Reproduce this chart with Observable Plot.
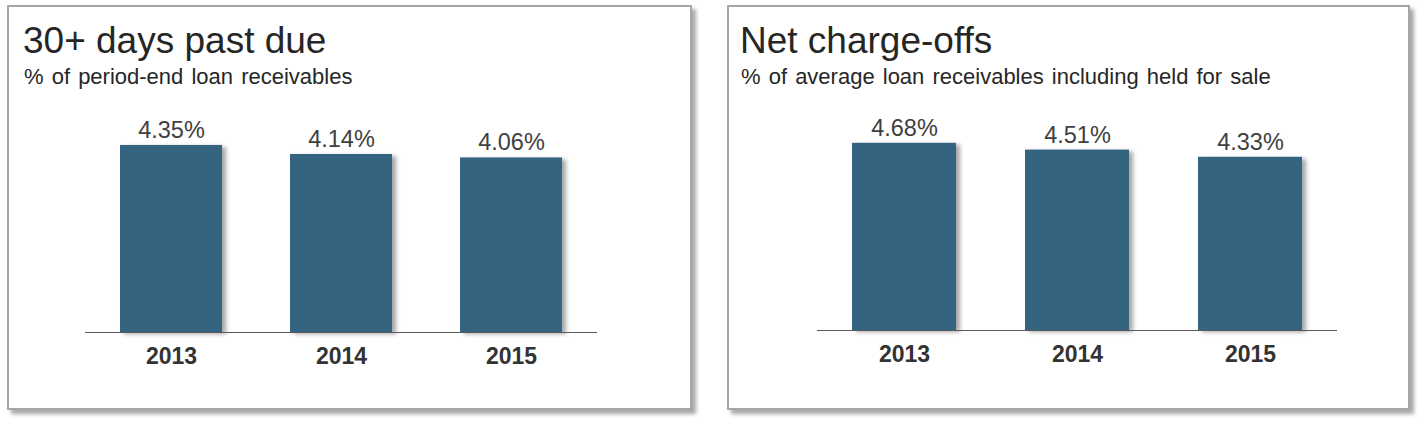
<!DOCTYPE html>
<html>
<head>
<meta charset="utf-8">
<script src="https://cdn.jsdelivr.net/npm/d3@7"></script>
<script src="https://cdn.jsdelivr.net/npm/@observablehq/plot@0.6"></script>
<style>
  html, body { margin: 0; padding: 0; background: #fff; }
  body { width: 1427px; height: 424px; position: relative; overflow: hidden; font-family: "Liberation Sans", Arial, sans-serif; }
  .panel { position: absolute; box-sizing: border-box; border: 2px solid #a6a6a6; background: #fff;
           box-shadow: 4px 4px 4px rgba(0,0,0,0.35); }
  .title { position: absolute; font-size: 37px; line-height: 37px; color: #262626; white-space: nowrap; }
  .subtitle { position: absolute; font-size: 22px; line-height: 22px; color: #262626; white-space: nowrap; word-spacing: 2px; }
  .chart { position: absolute; }
  .chart svg g[aria-label="bar"] rect { filter: drop-shadow(4px 2px 2px rgba(0,0,0,0.35)); }
</style>
</head>
<body>
<div class="panel" style="left:7px; top:5px; width:685px; height:405px;"></div>
<div class="panel" style="left:727px; top:5px; width:683px; height:405px;"></div>
<div class="title" style="left:23px; top:22px;">30+ days past due</div>
<div class="subtitle" style="left:24px; top:66px;">% of period-end loan receivables</div>
<div class="title" style="left:740px; top:22px;">Net charge-offs</div>
<div class="subtitle" style="left:741px; top:66px;">% of average loan receivables including held for sale</div>
<div class="chart" id="c1" style="left:7px; top:5px;"></div>
<div class="chart" id="c2" style="left:727px; top:5px;"></div>
<script>
const years = ["2013", "2014", "2015"];
const pastDue = [4.35, 4.14, 4.06];
const chargeOffs = [4.68, 4.51, 4.33];

const barColor = "#346480";

function makeChart(values, opts) {
  const data = years.map((y, i) => ({year: y, value: values[i]}));
  return Plot.plot({
    width: opts.width,
    height: 404,
    marginLeft: opts.ml,
    marginRight: opts.mr,
    marginTop: opts.mt,
    marginBottom: opts.mb,
    style: {fontFamily: "'Liberation Sans', Arial, sans-serif", background: "transparent", overflow: "visible"},
    x: {domain: years, paddingInner: 0.4, paddingOuter: 0.2, axis: null},
    y: {domain: [0, 5], axis: null},
    marks: [
      Plot.barY(data, {x: "year", y: "value", fill: barColor}),
      Plot.ruleY([0], {stroke: "#595959", strokeWidth: 1}),
      Plot.text(data, {x: "year", y: "value", text: d => d.value.toFixed(2) + "%", dy: -15,
                       fontSize: 23.5, fill: "#404040"}),
      Plot.text(years, {x: d => d, frameAnchor: "bottom", dy: 31, fontSize: 23,
                        fontWeight: "bold", fill: "#333333"})
    ]
  });
}

document.getElementById("c1").appendChild(
  makeChart(pastDue, {width: 684, ml: 78, mr: 94, mt: 112, mb: 77}));
document.getElementById("c2").appendChild(
  makeChart(chargeOffs, {width: 682, ml: 90, mr: 72, mt: 125, mb: 79}));
</script>
</body>
</html>
